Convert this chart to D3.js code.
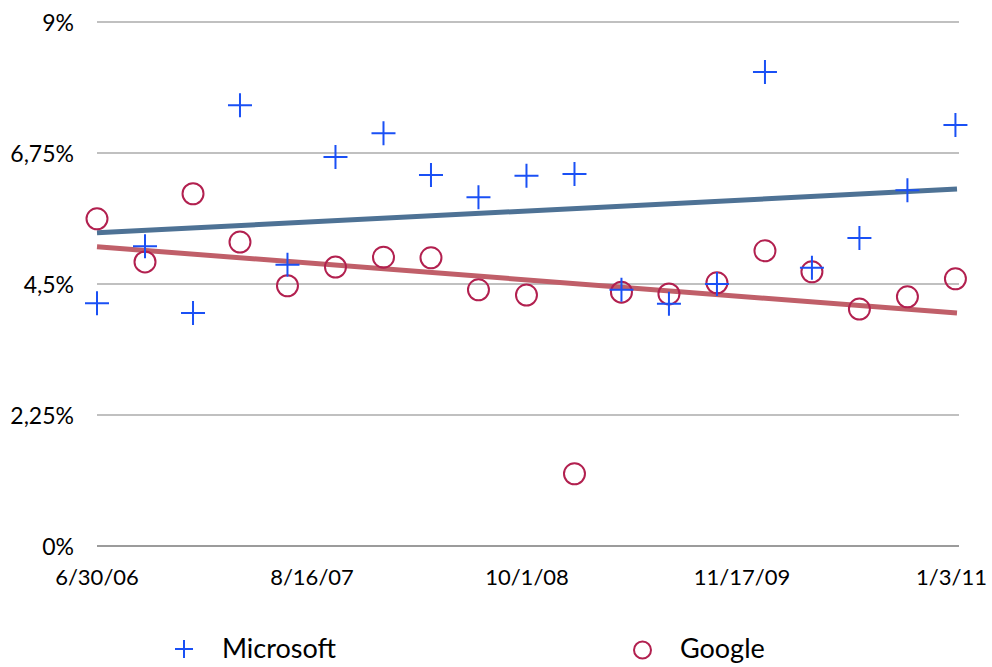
<!DOCTYPE html>
<html><head><meta charset="utf-8">
<script src="https://cdn.jsdelivr.net/npm/d3@7"></script>
<style>body{margin:0;background:#fff}svg{display:block}text{font-family:Lato,"Open Sans",sans-serif;fill:#000}</style>
</head><body>
<svg id="c" width="992" height="667"></svg>
<script>
const dates = ["6/30/06","9/30/06","12/31/06","3/31/07","6/30/07","9/30/07","12/31/07","3/31/08","6/30/08","9/30/08","12/31/08","3/31/09","6/30/09","9/30/09","12/31/09","3/31/10","6/30/10","9/30/10","12/31/10"];
const microsoft = [4.17,5.15,4.00,7.57,4.83,6.68,7.09,6.37,5.99,6.36,6.39,4.40,4.16,4.50,8.14,4.78,5.29,6.11,7.23];
const google = [5.62,4.88,6.05,5.22,4.47,4.79,4.96,4.95,4.40,4.31,1.24,4.36,4.33,4.52,5.07,4.71,4.07,4.28,4.59];
const msTrend = [5.38,6.13];
const googleTrend = [5.14,4.00];
const xTickLabels = ["6/30/06","8/16/07","10/1/08","11/17/09","1/3/11"];
const yTicks = [0,2.25,4.5,6.75,9];
const yTickLabels = ["0%","2,25%","4,5%","6,75%","9%"];
const seriesNames = ["Microsoft","Google"];

const parse = d3.timeParse("%m/%d/%y");
const svg = d3.select("#c");
const x = d3.scaleTime().domain([parse("6/30/06"), parse("1/3/11")]).range([97,957]);
const y = d3.scaleLinear().domain([0,9]).range([546,22]);

// grid
svg.append("g").selectAll("line").data(yTicks).join("line")
  .attr("x1",97).attr("x2",959).attr("y1",d=>y(d)).attr("y2",d=>y(d))
  .attr("stroke",d=>d===0?"#7a7a7a":"#ababab").attr("stroke-width",d=>d===0?1.6:1.3);

// y labels
svg.append("g").selectAll("text").data(yTicks).join("text")
  .attr("x",74).attr("y",d=>y(d)+9).attr("text-anchor","end")
  .style("font-size","23px").text((d,i)=>yTickLabels[i]);

// x labels
const nX = xTickLabels.length;
svg.append("g").selectAll("text").data(xTickLabels).join("text")
  .attr("x",(d,i)=>i===nX-1?987:x(parse(d))).attr("y",585)
  .attr("text-anchor",(d,i)=>i===nX-1?"end":"middle")
  .style("font-size","22px").text(d=>d);

const xs = [x(parse(dates[0])), x(parse("1/3/11"))];
// trend lines
svg.append("line").attr("x1",xs[0]).attr("x2",xs[1]).attr("y1",y(msTrend[0])).attr("y2",y(msTrend[1]))
  .attr("stroke","#4e7295").attr("stroke-width",5);
svg.append("line").attr("x1",xs[0]).attr("x2",xs[1]).attr("y1",y(googleTrend[0])).attr("y2",y(googleTrend[1]))
  .attr("stroke","#c05f69").attr("stroke-width",5);

const blue = "#1a50f5", red = "#b2204f";
function plus(g, cx, cy, s){
  g.append("path").attr("d",`M${cx-s},${cy}H${cx+s}M${cx},${cy-s}V${cy+s}`)
   .attr("stroke",blue).attr("stroke-width",2).attr("fill","none");
}
// google circles
svg.append("g").selectAll("circle").data(google).join("circle")
  .attr("cx",(d,i)=>x(parse(dates[i]))).attr("cy",d=>y(d)).attr("r",10.5)
  .attr("fill","none").attr("stroke",red).attr("stroke-width",2);
// microsoft plus
const gm = svg.append("g");
microsoft.forEach((d,i)=>plus(gm, x(parse(dates[i])), y(d), 12));

// legend
const lg = svg.append("g");
plus(lg, 184, 649, 9);
lg.append("text").attr("x",222).attr("y",658).style("font-size","27px").text(seriesNames[0]);
lg.append("circle").attr("cx",642.5).attr("cy",650).attr("r",8.5).attr("fill","none").attr("stroke",red).attr("stroke-width",2);
lg.append("text").attr("x",680).attr("y",658).style("font-size","27px").text(seriesNames[1]);
</script>
</body></html>
